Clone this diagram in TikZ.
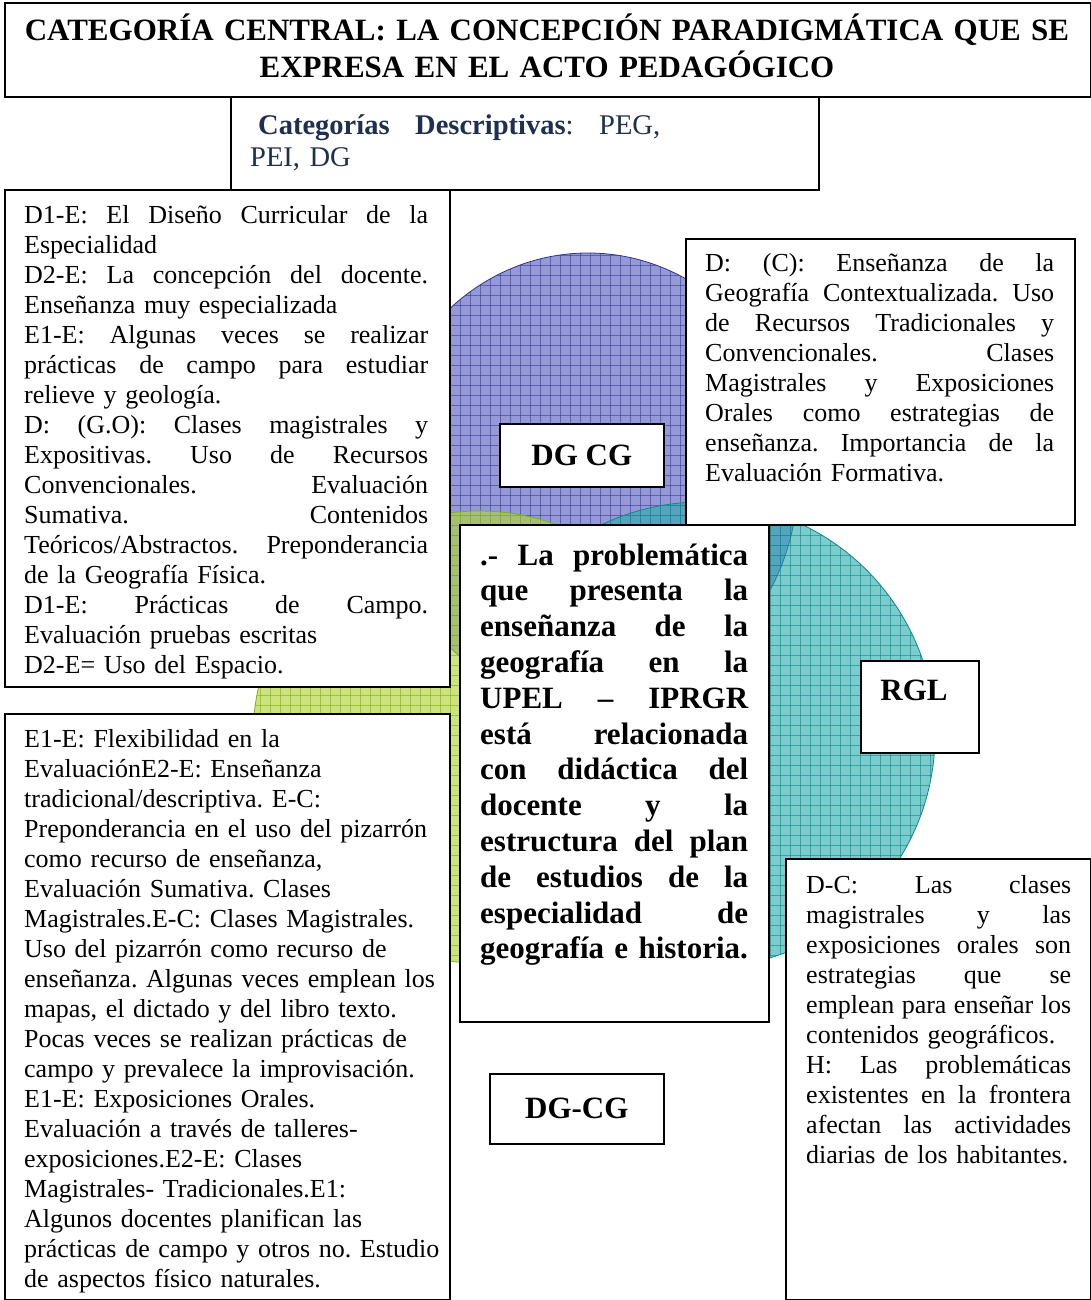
\documentclass[tikz,border=0pt]{standalone}
\usepackage{fontspec}
\setmainfont{Liberation Serif}
\usetikzlibrary{positioning}
\frenchspacing

\definecolor{navytxt}{HTML}{1F2F4F}
\definecolor{bluefill}{HTML}{5E62C2}
\definecolor{blueline}{HTML}{30358F}
\definecolor{greenfill}{HTML}{B0D43A}
\definecolor{greenline}{HTML}{80B010}
\definecolor{tealfill}{HTML}{2AACAC}
\definecolor{tealline}{HTML}{0E8888}

% one justified line, spread to \jlw
\newlength{\jlw}
\newcommand{\jl}[1]{\leavevmode\hbox to \jlw{\spaceskip=.25em plus 1fil\xspaceskip=.25em plus 1fil #1}}

\begin{document}
\begin{tikzpicture}[x=1pt,y=-1pt,box/.style={
	rectangle,
	anchor=north west,
	inner sep=0pt,
	draw=black,
	line width=1.6pt,
	fill=white
	},body/.style={
	anchor=base west,inner sep=0pt,align=left,
	font=\fontsize{26}{30}\selectfont
	},bodybold/.style={
	anchor=base west,inner sep=0pt,align=left,
	font=\bfseries\fontsize{31}{35.8}\selectfont
	},tag/.style={
	inner sep=0pt,font=\bfseries\fontsize{31}{37}\selectfont
	}
]
\useasboundingbox (0,0) rectangle (1091,1300);

% blue circle
\begin{scope}
\clip (588,478) ellipse [x radius=210, y radius=225];
\fill[bluefill, opacity=.65] (370,250) rectangle (800,705);
\foreach \gx in {380,390,...,800} \draw[blueline, opacity=.55, line width=.6pt] (\gx,250) -- (\gx,705);
\foreach \gy in {255,265,...,705} \draw[blueline, opacity=.55, line width=.6pt] (370,\gy) -- (800,\gy);
\end{scope}
\draw[blueline, line width=.8pt] (588,478) ellipse [x radius=210, y radius=225];

% green circle
\begin{scope}
\clip (479,737) circle [radius=226];
\fill[greenfill, opacity=.65] (250,508) rectangle (708,966);
\foreach \gx in {250,260,...,710} \draw[greenline, opacity=.6, line width=.6pt] (\gx,508) -- (\gx,966);
\foreach \gy in {515,525,...,965} \draw[greenline, opacity=.6, line width=.6pt] (250,\gy) -- (708,\gy);
\end{scope}
\draw[greenline, line width=.8pt] (479,737) circle [radius=226];

% teal circle
\begin{scope}
\clip (702,735) circle [radius=233];
\fill[tealfill, opacity=.62] (466,500) rectangle (938,970);
\foreach \gx in {470,480,...,940} \draw[tealline, opacity=.6, line width=.6pt] (\gx,500) -- (\gx,970);
\foreach \gy in {505,515,...,965} \draw[tealline, opacity=.6, line width=.6pt] (466,\gy) -- (938,\gy);
\end{scope}
\draw[tealline, line width=.8pt] (702,735) circle [radius=233];

% boxes
\node[box, minimum width=1086, minimum height=94] (titlebox) at (4,2) {};
\node[box, minimum width=588, minimum height=93] (catbox) at (230,96) {};
\node[box, minimum width=445, minimum height=497] (dleftbox) at (4,189) {};
\node[box, minimum width=389, minimum height=286] (drightbox) at (685,238) {};
\node[box, minimum width=164, minimum height=63] (dgcgbox) at (499,423) {};
\node[box, minimum width=309, minimum height=497] (centerbox) at (459,524) {};
\node[box, minimum width=118, minimum height=92] (rglbox) at (860,660) {};
\node[box, minimum width=445, minimum height=586] (eleftbox) at (4,713) {};
\node[box, minimum width=174, minimum height=70] (dgcgtwobox) at (489,1073) {};
\node[box, minimum width=305, minimum height=441] (hrightbox) at (785,858) {};

% texts
\node[tag, anchor=base, text width=1080, align=center] (title) at (547,41)
  {CATEGORÍA CENTRAL: LA CONCEPCIÓN PARADIGMÁTICA QUE SE\\EXPRESA EN EL ACTO PEDAGÓGICO};

\node[anchor=base west, inner sep=0pt, text width=412, align=left, text=navytxt,
  font=\fontsize{28.5}{32}\selectfont] (cattext) at (250,135)
  {\setlength{\jlw}{410pt}\jl{\hspace*{8pt}\textbf{Categorías} \textbf{Descriptivas}: PEG,}\\PEI, DG};

\node[body, text width=404] (dlefttext) at (24,223) {\setlength{\jlw}{404pt}%
\jl{D1-E: El Diseño Curricular de la}\\
Especialidad\\
\jl{D2-E: La concepción del docente.}\\
Enseñanza muy especializada\\
\jl{E1-E: Algunas veces se realizar}\\
\jl{prácticas de campo para estudiar}\\
relieve y geología.\\
\jl{D: (G.O): Clases magistrales y}\\
\jl{Expositivas. Uso de Recursos}\\
\jl{Convencionales. Evaluación}\\
\jl{Sumativa. Contenidos}\\
\jl{Teóricos/Abstractos. Preponderancia}\\
de la Geografía Física.\\
\jl{D1-E: Prácticas de Campo.}\\
Evaluación pruebas escritas\\
D2-E= Uso del Espacio.};

\node[body, text width=349] (drighttext) at (705,271) {\setlength{\jlw}{349pt}%
\jl{D: (C): Enseñanza de la}\\
\jl{Geografía Contextualizada. Uso}\\
\jl{de Recursos Tradicionales y}\\
\jl{Convencionales. Clases}\\
\jl{Magistrales y Exposiciones}\\
\jl{Orales como estrategias de}\\
\jl{enseñanza. Importancia de la}\\
Evaluación Formativa.};

\node[tag] (dgcg) at (dgcgbox.center) {DG CG};

\node[bodybold, text width=268] (centertext) at (480,565) {\setlength{\jlw}{268pt}%
\jl{.- La problemática}\\
\jl{que presenta la}\\
\jl{enseñanza de la}\\
\jl{geografía en la}\\
\jl{UPEL – IPRGR}\\
\jl{está relacionada}\\
\jl{con didáctica del}\\
\jl{docente y la}\\
\jl{estructura del plan}\\
\jl{de estudios de la}\\
\jl{especialidad de}\\
geografía e historia.};

\node[tag] (rgl) at (914,690) {RGL};

\node[body, text width=420] (elefttext) at (24,747) {%
E1-E: Flexibilidad en la\\
EvaluaciónE2-E: Enseñanza\\
tradicional/descriptiva. E-C:\\
Preponderancia en el uso del pizarrón\\
como recurso de enseñanza,\\
Evaluación Sumativa. Clases\\
Magistrales.E-C: Clases Magistrales.\\
Uso del pizarrón como recurso de\\
enseñanza. Algunas veces emplean los\\
mapas, el dictado y del libro texto.\\
Pocas veces se realizan prácticas de\\
campo y prevalece la improvisación.\\
E1-E: Exposiciones Orales.\\
Evaluación a través de talleres-\\
exposiciones.E2-E: Clases\\
Magistrales- Tradicionales.E1:\\
Algunos docentes planifican las\\
prácticas de campo y otros no. Estudio\\
de aspectos físico naturales.};

\node[tag] (dgcgtwo) at (dgcgtwobox.center) {DG-CG};

\node[body, text width=265] (hrighttext) at (806,893) {\setlength{\jlw}{265pt}%
\jl{D-C: Las clases}\\
\jl{magistrales y las}\\
\jl{exposiciones orales son}\\
\jl{estrategias que se}\\
\jl{emplean para enseñar los}\\
contenidos geográficos.\\
\jl{H: Las problemáticas}\\
\jl{existentes en la frontera}\\
\jl{afectan las actividades}\\
diarias de los habitantes.};

\end{tikzpicture}
\end{document}
